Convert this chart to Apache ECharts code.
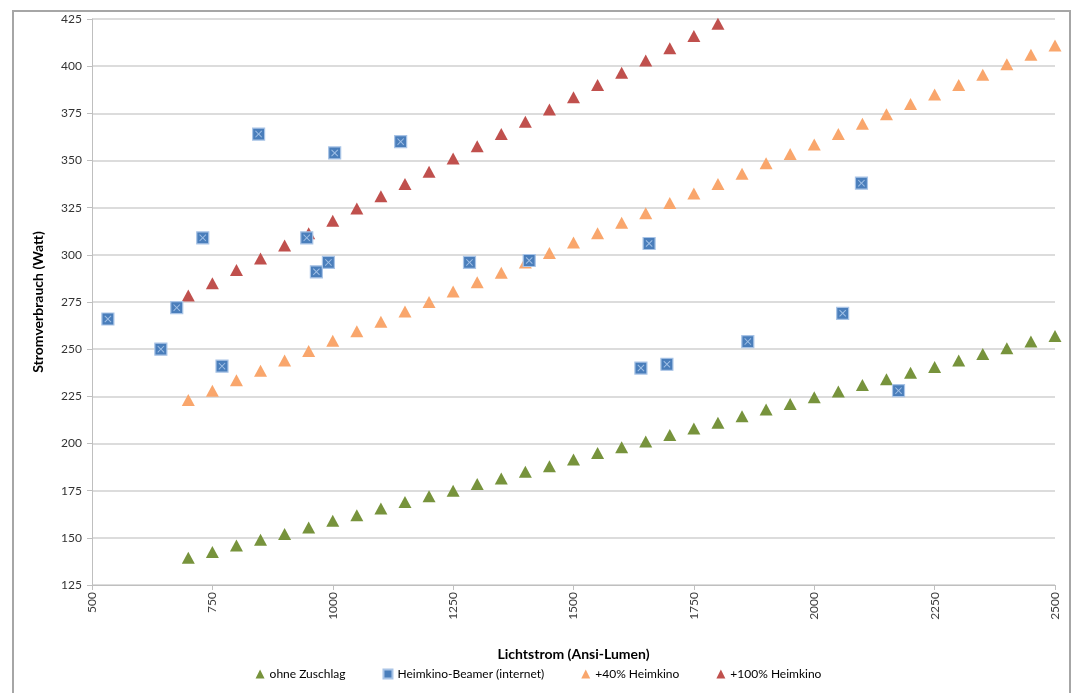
<!DOCTYPE html>
<html>
<head>
<meta charset="utf-8">
<script src="https://cdn.jsdelivr.net/npm/echarts@6/dist/echarts.min.js"></script>
<style>
html,body{margin:0;padding:0;background:#fff;}
#c{width:1077px;height:693px;}
</style>
</head>
<body>
<div id="c"></div>
<script>
// Data
const lumenSteps = [700,750,800,850,900,950,1000,1050,1100,1150,1200,1250,1300,1350,1400,1450,1500,1550,1600,1650,1700,1750,1800,1850,1900,1950,2000,2050,2100,2150,2200,2250,2300,2350,2400,2450,2500];
const ohneZuschlag = [139.5,142.5,146,149,152,155.5,159,162,165.5,169,172,175,178.5,181.5,185,188,191.5,195,198,201,204.5,208,211,214.5,218,221,224.5,227.5,231,234,237.5,240.5,244,247.5,250.5,254,257];
const plus40 = [223,228,233.5,238.5,244,249,254.5,259.5,264.5,270,275,280.5,285.5,290.5,296,301,306.5,311.5,317,322,327.5,332.5,337.5,343,348.5,353.5,358.5,364,369.5,374.5,380,385,390,395.5,401,406,411];
const plus100 = [278.5,285,292,298,305,311.5,318,324.5,331,337.5,344,351,357.5,364,370.5,377,383.5,390,396.5,403,409.5,416,422.5];
const beamerLumen = [533,643,676,730,770,846,946,966,991,1004,1141,1284,1408,1640,1657,1694,1862,2059,2098,2175];
const beamerWatt  = [266,250,272,309,241,364,309,291,296,354,360,296,297,240,306,242,254,269,338,228];
const seriesNames = ['ohne Zuschlag','Heimkino-Beamer (internet)','+40% Heimkino','+100% Heimkino'];

const pair = (xs, ys) => ys.map((v,i)=>[xs[i], v]);
const FONT = 'Lato, "Open Sans", sans-serif';
const xPath = 'path://M0,1 L1,0 L5,4 L9,0 L10,1 L6,5 L10,9 L9,10 L5,6 L1,10 L0,9 L4,5 Z';

const chart = echarts.init(document.getElementById('c'));
chart.setOption({
  animation:false,
  backgroundColor:'#fff',
  textStyle:{fontFamily:FONT},
  graphic:[{type:'rect', shape:{x:13,y:11,width:1057,height:700}, style:{fill:'none', stroke:'#a6a6a6', lineWidth:2}, silent:true}],
  grid:{left:92, right:22, top:19, bottom:108},
  xAxis:{
    type:'value', min:500, max:2500, interval:250,
    name:'Lichtstrom (Ansi-Lumen)', nameLocation:'middle', nameGap:62,
    nameTextStyle:{fontFamily:FONT, fontWeight:'bold', fontSize:14, color:'#000'},
    axisLine:{show:true, lineStyle:{color:'#bfbfbf', width:1}},
    axisTick:{show:true, length:5, lineStyle:{color:'#bfbfbf'}},
    axisLabel:{rotate:90, fontSize:12, color:'#404040', margin:7, fontFamily:FONT, formatter:v=>String(v)},
    splitLine:{show:false}
  },
  yAxis:{
    type:'value', min:125, max:425, interval:25,
    name:'Stromverbrauch (Watt)', nameLocation:'middle', nameGap:47,
    nameTextStyle:{fontFamily:FONT, fontWeight:'bold', fontSize:14, color:'#000'},
    axisLine:{show:true, lineStyle:{color:'#bfbfbf', width:1}},
    axisTick:{show:true, length:5, lineStyle:{color:'#bfbfbf'}},
    axisLabel:{fontSize:12, color:'#333', margin:10, fontFamily:FONT},
    splitLine:{show:true, lineStyle:{color:'#d0d0d0', width:1.5}}
  },
  legend:{
    data:[
      {name:seriesNames[0], icon:'triangle'},
      {name:seriesNames[1], icon:'rect'},
      {name:seriesNames[2], icon:'triangle'},
      {name:seriesNames[3], icon:'triangle'}
    ],
    bottom:8, left:'center', itemWidth:9, itemHeight:9, itemGap:37,
    textStyle:{fontSize:12, color:'#000', fontFamily:FONT}
  },
  series:[
    {name:seriesNames[0], type:'scatter', symbol:'triangle', symbolSize:[13,12],
     itemStyle:{color:'#77933c', opacity:1}, data:pair(lumenSteps, ohneZuschlag)},
    {name:seriesNames[1], type:'scatter', symbol:'rect', symbolSize:12,
     itemStyle:{color:'#4a7ebb', borderColor:'#a9c4e6', borderWidth:1.2, opacity:1}, data:pair(beamerLumen, beamerWatt), z:3},
    {name:'xmark', type:'scatter', symbol:xPath, symbolSize:7, silent:true,
     itemStyle:{color:'#9fbfe6', opacity:1}, data:pair(beamerLumen, beamerWatt), z:4},
    {name:seriesNames[2], type:'scatter', symbol:'triangle', symbolSize:[13,12],
     itemStyle:{color:'#f9a66c', opacity:1}, data:pair(lumenSteps, plus40)},
    {name:seriesNames[3], type:'scatter', symbol:'triangle', symbolSize:[13,12],
     itemStyle:{color:'#c0504d', opacity:1}, data:pair(lumenSteps.slice(0, plus100.length), plus100)}
  ]
});
</script>
</body>
</html>
